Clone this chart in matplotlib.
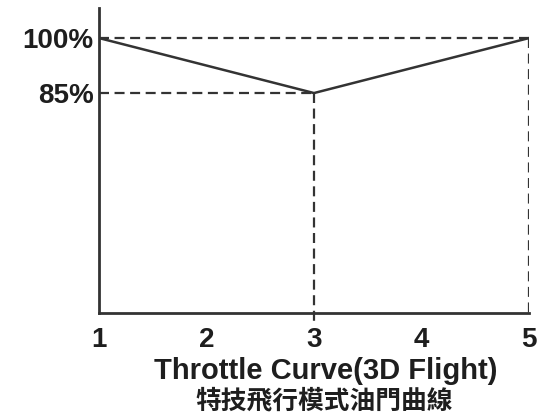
import matplotlib
matplotlib.use("Agg")
import matplotlib.pyplot as plt
from matplotlib.ticker import FixedLocator

# data
points = [1, 2, 3, 4, 5]
x_curve = [1, 3, 5]
y_curve = [100, 85, 100]
x_tick_labels = ["1", "2", "3", "4", "5"]
y_ticks = [85, 100]
y_tick_labels = ["85%", "100%"]
minor_marks = [2, 4]
title_en = "Throttle Curve(3D Flight)"
title_zh = "特技飛行模式油門曲線"

col = "#333333"
fig = plt.figure(figsize=(5.41, 4.13), dpi=100)
ax = fig.add_axes([99/541, 100/413, 430/541, 305/413])
ax.set_xlim(1, 5)
ax.set_ylim(25, 108.2)

for s in ["top", "right"]:
    ax.spines[s].set_visible(False)
for s in ["left", "bottom"]:
    ax.spines[s].set_color(col)
    ax.spines[s].set_linewidth(2)

# curve
ax.plot(x_curve, y_curve, color=col, lw=1.8, solid_capstyle="butt")

# guide dashes
dash = dict(color=col, lw=1.6, dashes=(4.5, 2.5))
ax.plot([x_curve[0], x_curve[2]], [y_curve[0], y_curve[2]], **dash)
ax.plot([x_curve[0], x_curve[1]], [y_curve[1], y_curve[1]], **dash)
ax.plot([x_curve[1], x_curve[1]], [y_curve[1], 22.5], clip_on=False, **dash)
ax.plot([x_curve[2], x_curve[2]], [y_curve[2], 25], **dash)

ax.set_xticks(points)
ax.set_xticklabels(x_tick_labels)
ax.xaxis.set_minor_locator(FixedLocator(minor_marks))
ax.tick_params(axis="x", which="major", length=0, pad=10)
ax.tick_params(axis="x", which="minor", direction="in", length=15, width=1.8, color=col)
ax.set_yticks(y_ticks)
ax.set_yticklabels(y_tick_labels)
ax.tick_params(axis="y", length=0, pad=4)
for lab in ax.get_xticklabels() + ax.get_yticklabels():
    lab.set_fontfamily("Liberation Sans")
    lab.set_fontweight("bold")
    lab.set_fontsize(20)
    lab.set_color("#1e1e1e")

fig.text(326/541, 1 - 371/413, title_en, ha="center", va="center",
         fontfamily="Liberation Sans", fontweight="bold", fontsize=21, color="#1e1e1e")
fig.text(324/541, 1 - 401/413, title_zh, ha="center", va="center",
         fontfamily=["Noto Sans CJK TC", "DejaVu Sans"], fontweight="bold", fontsize=18.5, color="#1e1e1e")

fig.savefig("out.png", dpi=100)
